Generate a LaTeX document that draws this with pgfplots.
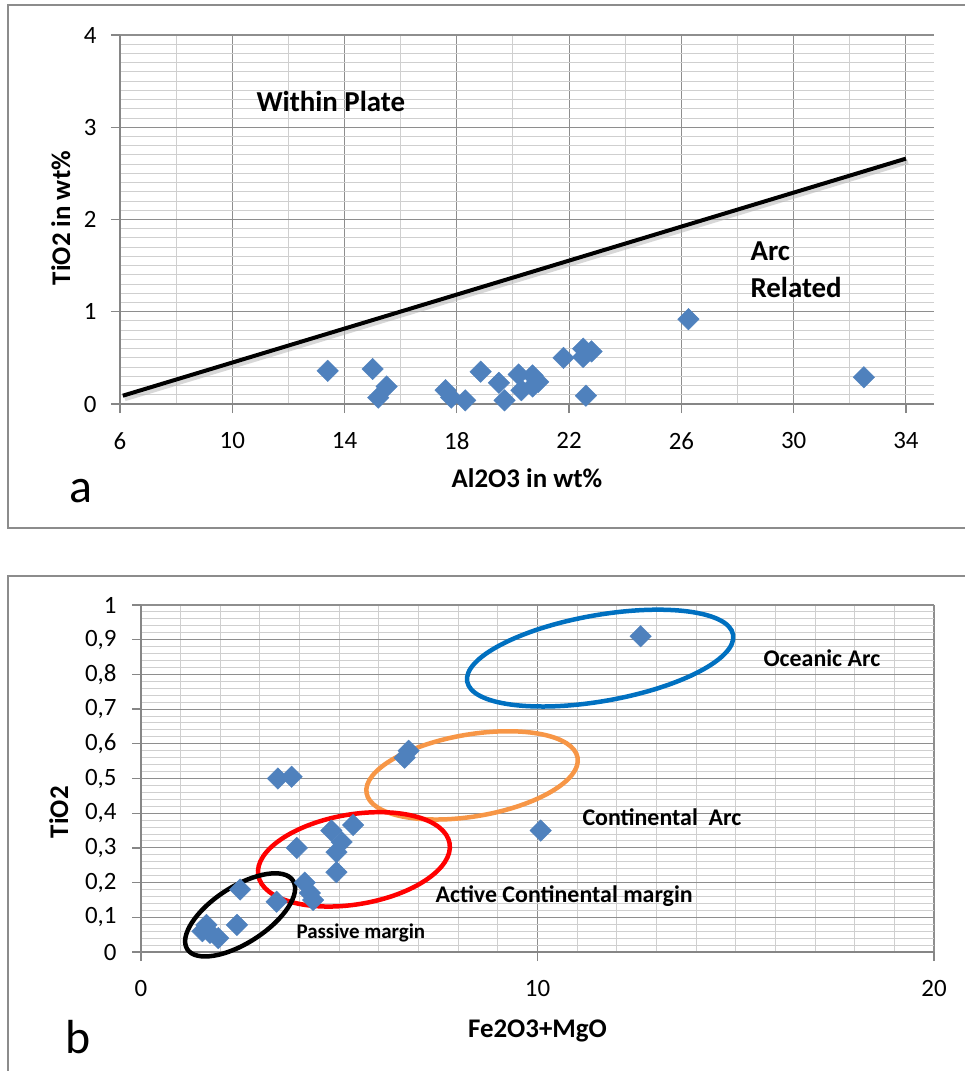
\documentclass[border=0pt]{standalone}
\usepackage{pgfplots}
\pgfplotsset{compat=1.18}
\usepackage{fontspec}
\setmainfont{Carlito}

\definecolor{markblue}{HTML}{4F81BD}
\definecolor{framegray}{HTML}{8C8C8C}
\definecolor{axisgray}{HTML}{868686}
\definecolor{majgray}{HTML}{8E8E8E}
\definecolor{mingray}{HTML}{CFCFCF}
\definecolor{ocean}{HTML}{0070C0}
\definecolor{contarc}{HTML}{F79646}

\pgfplotsset{
  sheet/.style={
    scale only axis,
    axis lines=left,
    axis line style={-, draw=axisgray, line width=1.3bp},
    tick align=outside,
    major tick length=9bp,
    minor tick length=0pt,
    tick style={draw=axisgray, line width=1.3bp},
    grid=both,
    major grid style={draw=majgray, line width=1.1bp},
    minor grid style={draw=mingray, line width=1bp},
    tick label style={font=\fontsize{25}{30}\selectfont},
    xticklabel style={yshift=-16bp},
    /pgf/number format/assume math mode=true,
    clip=false,
  },
  diamonds/.style={
    only marks, mark=square*, mark size=7.6bp,
    mark options={fill=markblue, draw=markblue, line width=0.4bp, rotate=45},
  },
}

\begin{document}
\begin{tikzpicture}
\useasboundingbox (0,0) rectangle (965bp,-1071bp);

% panel frames
\draw[framegray, line width=2.5bp] (990bp,-5bp) -| (8bp,-528bp) -- (990bp,-528bp);
\draw[framegray, line width=2.5bp] (990bp,-576bp) -| (8bp,-1090bp);

% (a) TiO2 vs Al2O3
\begin{axis}[sheet,
  at={(120bp,-404bp)}, anchor=south west,
  width=814bp, height=369bp,
  xmin=6, xmax=35, ymin=0, ymax=4,
  xtick={6,10,14,18,22,26,30,34},
  minor xtick={8,12,16,20,24,28,32},
  ytick={0,1,2,3,4},
  minor y tick num=9,
  yticklabel style={xshift=-11bp},
  xlabel={Al2O3 in wt\%},
  ylabel={TiO2 in wt\%},
  every axis x label/.style={at={(axis description cs:0.5,-0.225)}, anchor=base,
    font=\bfseries\fontsize{27}{32}\selectfont},
  every axis y label/.style={at={(axis description cs:-0.0614,0.504)}, rotate=90, anchor=base,
    font=\bfseries\fontsize{27}{32}\selectfont},
]
\addplot[black!30, opacity=0.5, line width=5bp, xshift=2bp, yshift=-3bp, forget plot]
  coordinates {(6.1,0.09) (34,2.66)};
\addplot[black, line width=4bp] coordinates {(6.1,0.09) (34,2.66)};
\addplot[diamonds] coordinates {
  (13.4,0.36) (15.0,0.38) (15.5,0.19) (15.2,0.07) (17.6,0.15) (17.8,0.07)
  (18.3,0.04) (18.85,0.35) (19.5,0.23) (19.7,0.04) (20.2,0.32) (20.3,0.15)
  (20.7,0.31) (20.7,0.19) (20.9,0.24) (21.8,0.50) (22.5,0.60) (22.5,0.51)
  (22.8,0.57) (22.6,0.09) (26.25,0.92) (32.5,0.29)
};
\end{axis}

\node[anchor=base west, font=\bfseries\fontsize{29}{34}\selectfont] at (253bp,-111bp) {Within Plate};
\node[anchor=base west, font=\bfseries\fontsize{29}{34}\selectfont] at (747bp,-260bp) {Arc};
\node[anchor=base west, font=\bfseries\fontsize{29}{34}\selectfont] at (747bp,-297bp) {Related};
\node[anchor=base west, font=\fontsize{48}{56}\selectfont] at (66bp,-502bp) {a};

% (b) TiO2 vs Fe2O3+MgO
\begin{axis}[sheet,
  at={(141bp,-952bp)}, anchor=south west,
  width=793bp, height=347bp,
  xmin=0, xmax=20, ymin=0, ymax=1,
  xtick={0,10,20},
  minor x tick num=9,
  ytick={0,0.1,0.2,0.3,0.4,0.5,0.6,0.7,0.8,0.9,1},
  minor y tick num=4,
  yticklabel style={xshift=-12bp, /pgf/number format/.cd, use comma, fixed, precision=1},
  xlabel={Fe2O3+MgO},
  ylabel={TiO2},
  every axis x label/.style={at={(axis description cs:0.5,-0.245)}, anchor=base,
    font=\bfseries\fontsize{27}{32}\selectfont},
  every axis y label/.style={at={(axis description cs:-0.092,0.403)}, rotate=90, anchor=base,
    font=\bfseries\fontsize{27}{32}\selectfont},
]
\addplot[diamonds] coordinates {
  (3.45,0.50) (3.8,0.505) (6.75,0.58) (6.65,0.56) (12.6,0.91) (10.08,0.35)
  (5.35,0.366) (4.8,0.35) (5.06,0.317) (4.93,0.288) (4.93,0.23) (3.93,0.30)
  (4.13,0.20) (4.26,0.17) (4.34,0.15) (3.42,0.145) (2.5,0.18) (2.42,0.078)
  (1.65,0.078) (1.74,0.055) (1.95,0.04) (1.55,0.06)
};
% field outlines
\draw[ocean, line width=4.5bp, rotate around={10:(axis cs:11.58,0.847)}]
  (axis cs:11.58,0.847) ellipse [x radius=135bp, y radius=43bp];
\draw[contarc, line width=4.5bp, rotate around={9.5:(axis cs:8.35,0.509)}]
  (axis cs:8.35,0.509) ellipse [x radius=107bp, y radius=41bp];
\draw[red, line width=4.5bp, rotate around={9.5:(axis cs:5.37,0.267)}]
  (axis cs:5.37,0.267) ellipse [x radius=97bp, y radius=45bp];
\draw[black, line width=4.5bp, rotate around={33:(axis cs:2.5,0.107)}]
  (axis cs:2.5,0.107) ellipse [x radius=63bp, y radius=28bp];
\end{axis}

\node[anchor=base west, font=\bfseries\fontsize{24}{28}\selectfont] at (760bp,-666bp) {Oceanic Arc};
\node[anchor=base west, font=\bfseries\fontsize{24}{28}\selectfont] at (579bp,-825bp) {Continental\ \ Arc};
\node[anchor=base west, font=\bfseries\fontsize{24}{28}\selectfont] at (432bp,-902bp) {Active Continental margin};
\node[anchor=base west, font=\bfseries\fontsize{21}{25}\selectfont] at (293bp,-938bp) {Passive margin};
\node[anchor=base west, font=\fontsize{48}{56}\selectfont] at (62bp,-1053bp) {b};
\end{tikzpicture}
\end{document}
